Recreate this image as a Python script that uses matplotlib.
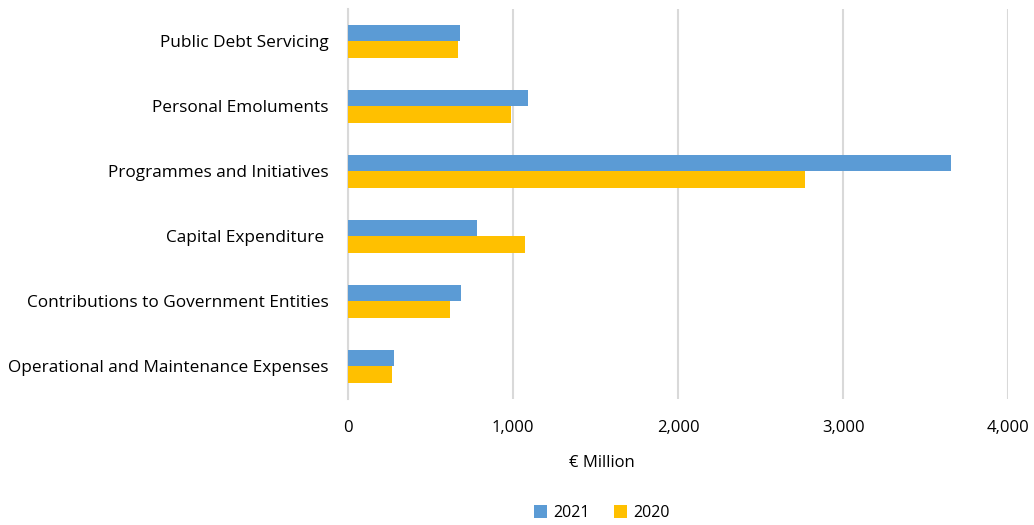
import matplotlib.pyplot as plt
import numpy as np

# Expenditure by category, € million
categories = [
    "Public Debt Servicing",
    "Personal Emoluments",
    "Programmes and Initiatives",
    "Capital Expenditure ",
    "Contributions to Government Entities",
    "Operational and Maintenance Expenses",
]
values_2021 = [680, 1091, 3651, 781, 686, 279]
values_2020 = [664, 990, 2771, 1073, 617, 269]
x_ticks = [0, 1000, 2000, 3000, 4000]

BLUE = "#5B9BD5"
GOLD = "#FFC000"
GRID = "#D9D9D9"

plt.rcParams["font.family"] = ["Open Sans", "DejaVu Sans"]

fig = plt.figure(figsize=(10.34, 5.25), dpi=100)
ax = fig.add_axes([0.3366, 0.24, 0.6384, 0.743])

pos = np.arange(len(categories))
h = 0.25
ax.barh(pos - h / 2, values_2021, height=h, color=BLUE, label="2021", zorder=3)
ax.barh(pos + h / 2, values_2020, height=h, color=GOLD, label="2020", zorder=3)

ax.set_ylim(len(categories) - 0.5, -0.5)
ax.set_xlim(0, 4000)
ax.set_xticks(x_ticks)
ax.set_xticklabels([f"{v:,}" for v in x_ticks])
ax.set_yticks(pos)
ax.set_yticklabels(categories)
ax.tick_params(axis="both", length=0, colors="#000000")
ax.tick_params(axis="x", pad=15, labelsize=12)
ax.tick_params(axis="y", pad=14, labelsize=12.4)

ax.grid(axis="x", color=GRID, linewidth=1.5, zorder=0)
for side in ("top", "right", "bottom"):
    ax.spines[side].set_visible(False)
ax.spines["left"].set_color(GRID)
ax.spines["left"].set_linewidth(1.5)

fig.text(602 / 1034, 1 - 463 / 525, "€ Million", ha="center", va="center", fontsize=12)
fig.legend(loc="center", bbox_to_anchor=(602 / 1034, 1 - 513 / 525), ncol=2,
           frameon=False, fontsize=11.5, handlelength=0.8, handleheight=0.8,
           handletextpad=0.4, columnspacing=1.5)

fig.savefig("out.png", dpi=100)
